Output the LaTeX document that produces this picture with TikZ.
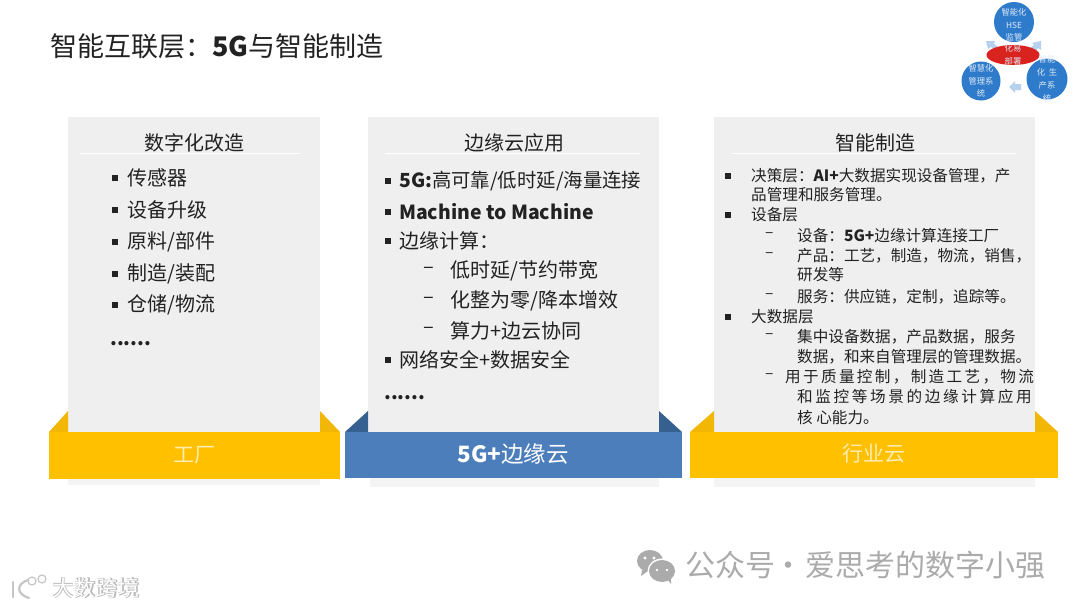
\documentclass[tikz,border=0pt]{standalone}
\usepackage{fontspec}
\setmainfont{Noto Sans CJK SC}
\definecolor{panelgray}{HTML}{EFEFEF}
\definecolor{stripgray}{HTML}{F4F4F4}
\definecolor{ribbonyellow}{HTML}{FFC000}
\definecolor{foldyellow}{HTML}{F2B705}
\definecolor{ribbonblue}{HTML}{4C7EBB}
\definecolor{foldblue}{HTML}{35608F}
\definecolor{logoblue}{HTML}{2F7BCB}
\definecolor{logored}{HTML}{D9231F}
\definecolor{inktext}{HTML}{222222}
\definecolor{markgray}{HTML}{ABABAB}
\newcommand{\widetext}[2]{{\addfontfeature{LetterSpace=#1}#2}}
\tikzset{
	headtext/.style={text=inktext,font=\fontsize{20}{24}\selectfont,inner sep=0pt},
	bigtext/.style={headtext,anchor=west},
	tighttext/.style={bigtext,font=\fontsize{19.4}{24}\selectfont},
	smalltext/.style={text=inktext,font=\fontsize{15.6}{18}\selectfont,inner sep=0pt,anchor=west},
	bandtext/.style={font=\fontsize{21}{25}\selectfont,inner sep=0pt},
	bulletbox/.style={fill=inktext,inner sep=0pt,minimum size=5.5pt},
	logotext/.style={text=white!85!logoblue,font=\fontsize{8.3}{12.8}\selectfont,align=center,inner sep=0pt},
	logoarrow/.style={fill=logoblue!35!white,draw=none},
	marktext/.style={text=markgray,font=\fontsize{30}{34}\selectfont,inner sep=0pt,anchor=west}
}
\begin{document}
\begin{tikzpicture}[x=1pt,y=-1pt]
	\useasboundingbox (0,0) rectangle (1080,608);
	\fill[white] (0,0) rectangle (1080,608);
	\node[inner sep=0pt,anchor=west,text=inktext,font=\fontsize{27}{32}\selectfont] (title) at (50,46) {智能互联层：\textbf{5G}与智能制造};

	% left panel
	\fill[stripgray] (68,470) rectangle (320,485);
	\fill[panelgray] (68,117) rectangle (320,432);
	\fill[foldyellow] (49,432) -- (68,411) -- (68,432) -- cycle;
	\fill[foldyellow] (320,411) -- (340,432) -- (320,432) -- cycle;
	\fill[ribbonyellow] (49,432) rectangle (340,479);
	\draw[white,line width=0.6pt] (80,153) -- (300,153);
	\node[headtext] (headfactory) at (194,143) {数字化改造};
	\node[bulletbox] (bf1) at (115,178) {};
	\node[bulletbox] (bf2) at (115,210) {};
	\node[bulletbox] (bf3) at (115,242) {};
	\node[bulletbox] (bf4) at (115,274) {};
	\node[bulletbox] (bf5) at (115,305) {};
	\node[bigtext] (f1) at (127,178) {传感器};
	\node[bigtext] (f2) at (127,210) {设备升级};
	\node[bigtext] (f3) at (127,242) {原料/部件};
	\node[bigtext] (f4) at (127,274) {制造/装配};
	\node[bigtext] (f5) at (127,305) {仓储/物流};
	\node[tighttext] (f6) at (110,344) {\textbf{......}};
	\node[bandtext,text=white!70!ribbonyellow] (bandfactory) at (194,455) {工厂};

	% middle panel
	\fill[stripgray] (370,470) rectangle (659,487);
	\fill[panelgray] (368,117) rectangle (659,432);
	\fill[foldblue] (345,432) -- (368,411) -- (368,432) -- cycle;
	\fill[foldblue] (659,411) -- (682,432) -- (659,432) -- cycle;
	\fill[ribbonblue] (345,432) rectangle (682,478);
	\draw[white,line width=0.6pt] (385,153) -- (640,153);
	\node[headtext] (headedge) at (514,143) {边缘云应用};
	\node[bulletbox] (be1) at (388,181) {};
	\node[bulletbox] (be2) at (388,212) {};
	\node[bulletbox] (be3) at (388,241) {};
	\node[bulletbox] (be4) at (388,360) {};
	\node[tighttext] (e1) at (399,181) {\textbf{5G:}高可靠/低时延/海量连接};
	\node[tighttext] (e2) at (399,212) {\textbf{Machine to Machine}};
	\node[bigtext] (e3) at (399,241) {边缘计算：};
	\node[bigtext] (e4) at (423,270) {–};
	\node[bigtext] (e5) at (423,300) {–};
	\node[bigtext] (e6) at (423,330) {–};
	\node[bigtext] (e7) at (450,271) {低时延/节约带宽};
	\node[bigtext] (e8) at (450,301) {化整为零/降本增效};
	\node[bigtext] (e9) at (450,331) {算力+边云协同};
	\node[bigtext] (e10) at (399,360) {网络安全+数据安全};
	\node[tighttext] (e11) at (384,398) {\textbf{......}};
	\node[bandtext,text=white,font=\fontsize{22.5}{26}\selectfont] (bandedge) at (513,454) {\textbf{5G+}边缘云};

	% right panel
	\fill[stripgray] (714,470) rectangle (1035,487);
	\fill[panelgray] (714,117) rectangle (1035,432);
	\fill[foldyellow] (690,432) -- (714,411) -- (714,432) -- cycle;
	\fill[foldyellow] (1035,411) -- (1058,432) -- (1035,432) -- cycle;
	\fill[ribbonyellow] (690,432) rectangle (1058,478);
	\draw[white,line width=0.6pt] (732,153) -- (1016,153);
	\node[headtext] (headmaking) at (875,143) {智能制造};
	\node[bulletbox] (bm1) at (728,176) {};
	\node[bulletbox] (bm2) at (728,215) {};
	\node[bulletbox] (bm3) at (728,317) {};
	\node[smalltext] (m1) at (751,176) {决策层：\textbf{AI+}大数据实现设备管理，产};
	\node[smalltext] (m2) at (751,195) {品管理和服务管理。};
	\node[smalltext] (m3) at (751,215) {设备层};
	\node[smalltext] (d1) at (765,235) {–};
	\node[smalltext] (d2) at (765,255) {–};
	\node[smalltext] (d3) at (765,296) {–};
	\node[smalltext] (d4) at (765,336) {–};
	\node[smalltext] (d5) at (765,376) {–};
	\node[smalltext] (m4) at (797,236) {设备：\textbf{5G+}边缘计算连接工厂};
	\node[smalltext] (m5) at (797,256) {产品：工艺，制造，物流，销售，};
	\node[smalltext] (m6) at (797,275) {研发等};
	\node[smalltext] (m7) at (797,297) {服务：供应链，定制，追踪等。};
	\node[smalltext] (m8) at (751,317) {大数据层};
	\node[smalltext] (m9) at (797,337) {集中设备数据，产品数据，服务};
	\node[smalltext] (m10) at (797,357) {数据，和来自管理层的管理数据。};
	\node[smalltext] (m11) at (785,377) {\widetext{15}{用于质量控制，制造工艺，物流}};
	\node[smalltext] (m12) at (797,397) {\widetext{17}{和监控等场景的边缘计算应用}};
	\node[smalltext] (m13) at (797,418) {核 心能力。};
	\node[bandtext,text=white!70!ribbonyellow] (bandmaking) at (874,454) {行业云};

	% logo top right
	\fill[logoarrow] (986,41) -- (995,41) -- (994,44) -- (998,47) -- (994,50) -- (991,47) -- (988,49) -- cycle;
	\fill[logoarrow] (1041,41) -- (1032,43) -- (1034,45) -- (1029,49) -- (1034,52) -- (1038,48) -- (1041,50) -- cycle;
	\fill[logoarrow] (1009,87) -- (1015,81) -- (1015,84) -- (1021,84) -- (1021,90) -- (1015,90) -- (1015,93) -- cycle;
	\node[circle,fill=logoblue,minimum size=40pt,inner sep=0pt] (hse) at (1014,22) {};
	\node[circle,fill=logoblue,minimum size=39pt,inner sep=0pt] (manage) at (981,81) {};
	\node[circle,fill=logoblue,minimum size=41pt,inner sep=0pt] (produce) at (1047,79) {};
	\fill[logored] (1013,55) ellipse (26.5 and 10);
	\node[logotext] (hsetext) at (1014,25) {智能化\\HSE\\监管};
	\node[logotext] (managetext) at (981,81) {智慧化\\管理系\\统};
	\node[logotext] (producetext) at (1047,79) {智能\\化\ \ 生\\产系\\统};
	\node[logotext] (centertext) at (1013,55) {化易\\部署};

	% marks at the bottom
	\fill[markgray] (650,561) ellipse (13 and 11);
	\fill[markgray] (642,570) -- (641,576) -- (648,571) -- cycle;
	\fill[white] (662,571) ellipse (14.5 and 12.5);
	\fill[markgray] (662,571) ellipse (13 and 11);
	\fill[markgray] (668,580) -- (671,584) -- (671,578) -- cycle;
	\fill[white] (645,558) circle (1.6);
	\fill[white] (654,558) circle (1.6);
	\fill[white] (657,570) circle (1.4);
	\fill[white] (667,570) circle (1.4);
	\node[marktext] (account) at (685,565) {公众号\kern-8pt\ ·\kern-5pt\ 爱思考的数字小强};

	\draw[gray!45,line width=2.2pt,line cap=round] (13,582) -- (13,597);
	\draw[gray!45,line width=2.2pt,line cap=round] (28,580) .. controls (16,584) and (16,594) .. (29,598);
	\draw[gray!45,line width=1.2pt] (32,581) circle (4);
	\draw[gray!45,line width=1.2pt] (42,579) circle (4);
	\node[inner sep=0pt,text=gray!55,font=\fontsize{22}{25}\selectfont\bfseries] (crossshade) at (96.5,588.5) {大数跨境};
	\node[inner sep=0pt,text=white,font=\fontsize{22}{25}\selectfont] (cross) at (96,588) {大数跨境};
\end{tikzpicture}
\end{document}
